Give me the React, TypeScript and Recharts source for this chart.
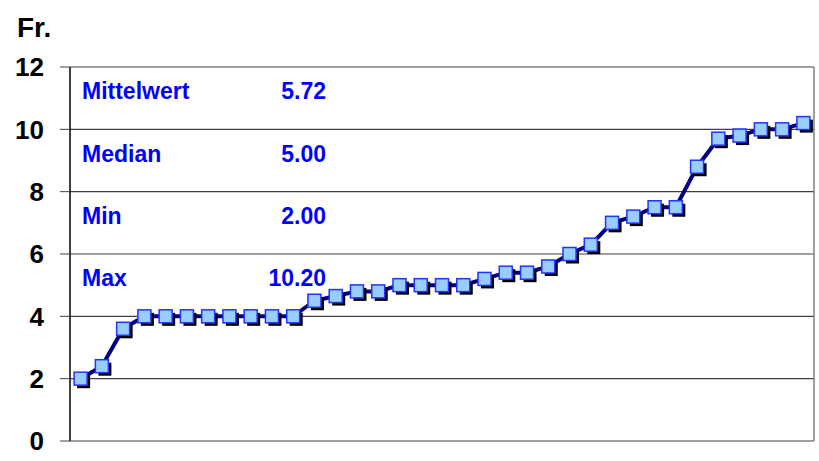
import React from "react"
import { LineChart, Line, XAxis, YAxis, CartesianGrid, ReferenceLine } from "recharts"

// sorted values (Fr.)
const values = [
    2.0, 2.4, 3.6, 4.0, 4.0, 4.0, 4.0, 4.0, 4.0, 4.0, 4.0,
    4.5, 4.65, 4.8, 4.8, 5.0, 5.0, 5.0, 5.0, 5.2, 5.4, 5.4, 5.6,
    6.0, 6.3, 7.0, 7.2, 7.5, 7.5, 8.8, 9.7, 9.8, 10.0, 10.0, 10.2,
]
const yTicks = [0, 2, 4, 6, 8, 10, 12]
const statNames = ["Mittelwert", "Median", "Min", "Max"]

const data = values.map((v, i) => ({ i: i + 1, v }))

const mean = values.reduce((a, b) => a + b, 0) / values.length
const median = values[Math.floor(values.length / 2)]
const statValues = [mean, median, Math.min(...values), Math.max(...values)]

const FONT = "'Liberation Sans', Arial, sans-serif"

function SquareDot(props: any) {
    const { cx, cy, index } = props
    if (cx == null || cy == null) return null
    const s = 13
    return (
        <g key={"d" + index}>
            <rect x={cx - s / 2 + 3} y={cy - s / 2 + 3} width={s} height={s} fill="#000000" />
            <rect x={cx - s / 2} y={cy - s / 2} width={s} height={s} fill="#99CCFF" stroke="#2233FF" strokeWidth={1.5} />
        </g>
    )
}

export default function App() {
    return (
        <div style={{ position: "absolute", left: 0, top: 0, width: 819, height: 461, background: "#fff", fontFamily: FONT }}>
            <div style={{ position: "absolute", left: 17, top: 12, fontSize: 28, fontWeight: "bold", color: "#000" }}>Fr.</div>
            <LineChart width={819} height={461} data={data} margin={{ top: 67, right: 0, bottom: 20, left: 0 }}>
                <CartesianGrid vertical={false} stroke="#404040" strokeWidth={1.2} />
                {/* each value sits in the middle of its own slot */}
                <XAxis dataKey="i" type="number" domain={[0.5, values.length + 0.5]} hide />
                <YAxis
                    domain={[0, 12]}
                    ticks={yTicks}
                    width={70}
                    tickSize={10}
                    tickMargin={16}
                    axisLine={{ stroke: "#000", strokeWidth: 1.5 }}
                    tickLine={{ stroke: "#404040" }}
                    tick={{ fill: "#000", fontSize: 26, fontWeight: "bold", fontFamily: FONT }}
                />
                <YAxis
                    yAxisId="r"
                    orientation="right"
                    width={5}
                    tick={false}
                    tickLine={false}
                    axisLine={{ stroke: "#808080", strokeWidth: 1.5 }}
                />
                {statNames.map((name, k) => (
                    <ReferenceLine
                        key={name}
                        y={11 - 2 * k}
                        stroke="none"
                        label={(p: any) => {
                            const vb = p.viewBox || {}
                            const y = vb.y - 7
                            return (
                                <g>
                                    <text x={vb.x + 12} y={y} dy="0.355em" fill="#0000FF" fontSize={23} fontWeight="bold" fontFamily={FONT}>{name}</text>
                                    <text x={vb.x + 256} y={y} dy="0.355em" textAnchor="end" fill="#0000FF" fontSize={23} fontWeight="bold" fontFamily={FONT}>{statValues[k].toFixed(2)}</text>
                                </g>
                            )
                        }}
                    />
                ))}
                <Line
                    dataKey="v"
                    stroke="#000080"
                    strokeWidth={4}
                    dot={SquareDot}
                    activeDot={false}
                    isAnimationActive={false}
                />
            </LineChart>
        </div>
    )
}
